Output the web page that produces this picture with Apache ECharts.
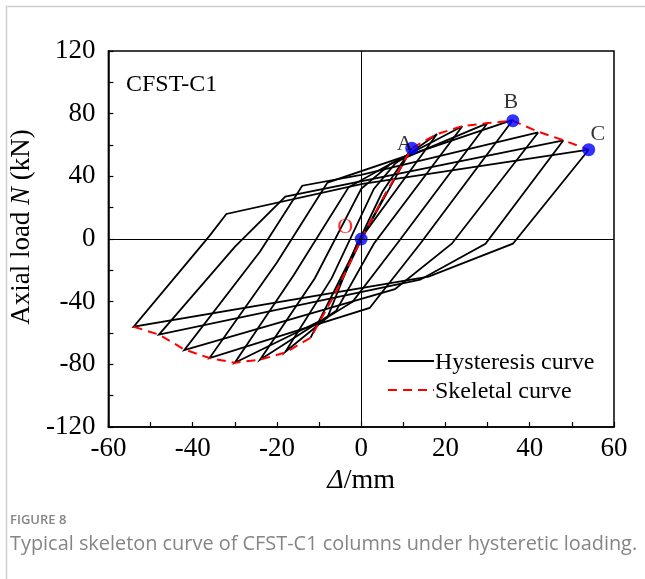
<!DOCTYPE html>
<html>
<head>
<meta charset="utf-8">
<script src="https://cdn.jsdelivr.net/npm/echarts/dist/echarts.min.js"></script>
<style>
  html, body { margin: 0; padding: 0; background: #fff; }
  #chart { width: 645px; height: 579px; }
</style>
</head>
<body>
<div id="chart"></div>
<script>
// Load–displacement loops of specimen CFST-C1, one closed loop per amplitude (mm, kN)
const cycle06 = [[6, 30], [-1, -5], [-6, -34], [1, 5], [6, 30]];
const cycle12 = [[12, 58], [-2, -10], [-12, -63], [-3, -15], [5, 30], [12, 58]];
const cycle18 = [[18, 67], [-1, -3], [-8, -50], [-18, -72], [-7, -25], [3, 32], [8, 48], [18, 67]];
const cycle24 = [[24, 72], [3, -3], [-6, -46], [-24, -77], [-11, -25], [0, 32], [7, 48], [24, 72]];
const cycle30 = [[30, 74], [8.5, -3], [-2, -40], [-8, -50], [-30, -79], [-16, -23], [-3, 33], [7, 48], [30, 74]];
const cycle36 = [[36, 76], [14, -3], [2, -44], [-36, -76], [-20, -15], [-8, 36], [36, 76]];
const cycle42 = [[42, 68], [21.5, -3], [8, -32], [-42, -71], [-24, -8], [-14, 34], [0, 41], [42, 68]];
const cycle48 = [[48, 63], [29.5, -3], [14, -26], [-48, -61], [-30, -5], [-18, 27], [48, 63]];
const cycle54 = [[54, 57], [36, -3], [16, -24], [-54, -56], [-36, 2], [-32, 16], [0, 35], [54, 57]];

// Skeleton (envelope) curve through the loop peaks
const skeleton = [[-54, -56], [-48, -61], [-42, -70.5], [-36, -76], [-30, -79], [-24, -77], [-18, -72.5],
  [-12, -63], [-6, -34], [0, 0], [6, 30], [12, 58], [18, 67], [24, 72], [30, 74], [36, 75.5],
  [42, 68.5], [48, 63], [54, 57]];

// Characteristic points
const keyPointNames = ['O', 'A', 'B', 'C'];
const keyPointValues = [[0, 0], [12, 58], [36, 75.5], [54, 57]];
const keyPointOffsets = [[-16, -12], [-7, -4], [-2, -18], [9, -15]];
const keyPointColors = ['#ff0000', '#000000', '#000000', '#000000'];

// Legend entries
const legendNames = ['Hysteresis curve', 'Skeletal curve'];

// Axis ranges and ticks
const xRange = [-60, 60], xStep = 20;
const yRange = [-120, 120], yStep = 40;

const serif = 'Liberation Serif';
const loops = [cycle06, cycle12, cycle18, cycle24, cycle30, cycle36, cycle42, cycle48, cycle54];

const hysteresisStyle = { color: '#000', width: 1.8 };
const skeletonStyle = { color: '#ff0000', width: 2, dash: [9, 6] };

const loopSeries = loops.map((pts, i) => ({
  name: legendNames[0],
  type: 'line',
  data: pts,
  symbol: 'none',
  z: 2,
  silent: true,
  lineStyle: { color: hysteresisStyle.color, width: hysteresisStyle.width, join: 'miter' },
  itemStyle: { color: hysteresisStyle.color },
  markLine: i === 0 ? {
    silent: true,
    symbol: 'none',
    label: { show: false },
    lineStyle: { color: '#000', width: 1, type: 'solid' },
    data: [{ xAxis: 0 }, { yAxis: 0 }]
  } : undefined
}));

// Legend key: a short line sample followed by its caption
function legendRow(y, name, stroke, width, dash) {
  return {
    type: 'group', silent: true,
    children: [
      { type: 'line', shape: { x1: 388, y1: y, x2: 434, y2: y },
        style: { stroke: stroke, lineWidth: width, lineDash: dash || null } },
      { type: 'text', x: 435, y: y + 2,
        style: { text: name, font: '24px "Liberation Serif"', fill: '#000', textVerticalAlign: 'middle', verticalAlign: 'middle' } }
    ]
  };
}

const chart = echarts.init(document.getElementById('chart'), null, { renderer: 'canvas' });

chart.setOption({
  animation: false,
  backgroundColor: '#fff',
  textStyle: { fontFamily: serif },
  grid: {
    left: 102, right: 31, top: 51, bottom: 152,
    show: true, borderColor: '#000', borderWidth: 1.5, backgroundColor: 'transparent'
  },
  title: {
    text: 'CFST-C1',
    left: 121, top: 68,
    textStyle: { fontFamily: serif, fontSize: 24, fontWeight: 'normal', color: '#000' }
  },
  xAxis: {
    type: 'value',
    min: xRange[0], max: xRange[1], interval: xStep,
    axisLine: { onZero: false, lineStyle: { color: '#000', width: 1.5 } },
    axisTick: { inside: true, length: 5, lineStyle: { color: '#000', width: 1.2 } },
    minorTick: { show: true, splitNumber: 2, length: 5, lineStyle: { color: '#000', width: 1.2 } },
    splitLine: { show: false },
    axisLabel: { color: '#000', fontFamily: serif, fontSize: 27, margin: 8 },
    name: '{i|Δ}/mm',
    nameLocation: 'middle',
    nameGap: 37,
    nameTextStyle: {
      color: '#000', fontFamily: serif, fontSize: 28,
      rich: { i: { fontStyle: 'italic', fontFamily: serif, fontSize: 28, color: '#000' } }
    }
  },
  yAxis: {
    type: 'value',
    min: yRange[0], max: yRange[1], interval: yStep,
    axisLine: { onZero: false, lineStyle: { color: '#000', width: 1.5 } },
    axisTick: { inside: true, length: 5, lineStyle: { color: '#000', width: 1.2 } },
    minorTick: { show: true, splitNumber: 2, length: 5, lineStyle: { color: '#000', width: 1.2 } },
    splitLine: { show: false },
    axisLabel: { color: '#000', fontFamily: serif, fontSize: 27, margin: 13 },
    name: 'Axial load {i|N} (kN)',
    nameLocation: 'middle',
    nameGap: 52,
    nameTextStyle: {
      color: '#000', fontFamily: serif, fontSize: 27, padding: [0, 0, 0, 24],
      rich: { i: { fontStyle: 'italic', fontFamily: serif, fontSize: 27, color: '#000' } }
    }
  },
  graphic: [
    { type: 'line', shape: { x1: 6, y1: 6.5, x2: 645, y2: 6.5 }, style: { stroke: '#cfcfcf', lineWidth: 1.5 }, silent: true },
    { type: 'line', shape: { x1: 6.5, y1: 6, x2: 6.5, y2: 579 }, style: { stroke: '#cfcfcf', lineWidth: 1.5 }, silent: true },
    legendRow(361, legendNames[0], hysteresisStyle.color, hysteresisStyle.width),
    legendRow(390, legendNames[1], skeletonStyle.color, skeletonStyle.width, skeletonStyle.dash),
    {
      type: 'text', left: 10, top: 514, silent: true,
      style: { text: 'FIGURE 8', font: '600 13px "Open Sans", sans-serif', fill: '#858585' }
    },
    {
      type: 'text', left: 10, top: 534, silent: true,
      style: { text: 'Typical skeleton curve of CFST-C1 columns under hysteretic loading.', font: '19.9px "Open Sans", sans-serif', fill: '#858585' }
    }
  ],
  series: [
    ...loopSeries,
    {
      name: legendNames[1],
      type: 'line',
      data: skeleton,
      symbol: 'none',
      z: 3,
      silent: true,
      lineStyle: { color: skeletonStyle.color, width: skeletonStyle.width, type: skeletonStyle.dash },
      itemStyle: { color: skeletonStyle.color }
    },
    {
      name: 'Key points',
      type: 'scatter',
      z: 4,
      silent: true,
      symbol: 'circle',
      symbolSize: 13,
      itemStyle: { color: '#0000ff' },
      data: keyPointValues.map((v, i) => ({
        value: v,
        name: keyPointNames[i],
        label: {
          show: true,
          position: 'inside',
          offset: keyPointOffsets[i],
          formatter: '{b}',
          color: keyPointColors[i],
          fontFamily: serif,
          fontSize: 22
        }
      }))
    }
  ]
});
</script>
</body>
</html>
